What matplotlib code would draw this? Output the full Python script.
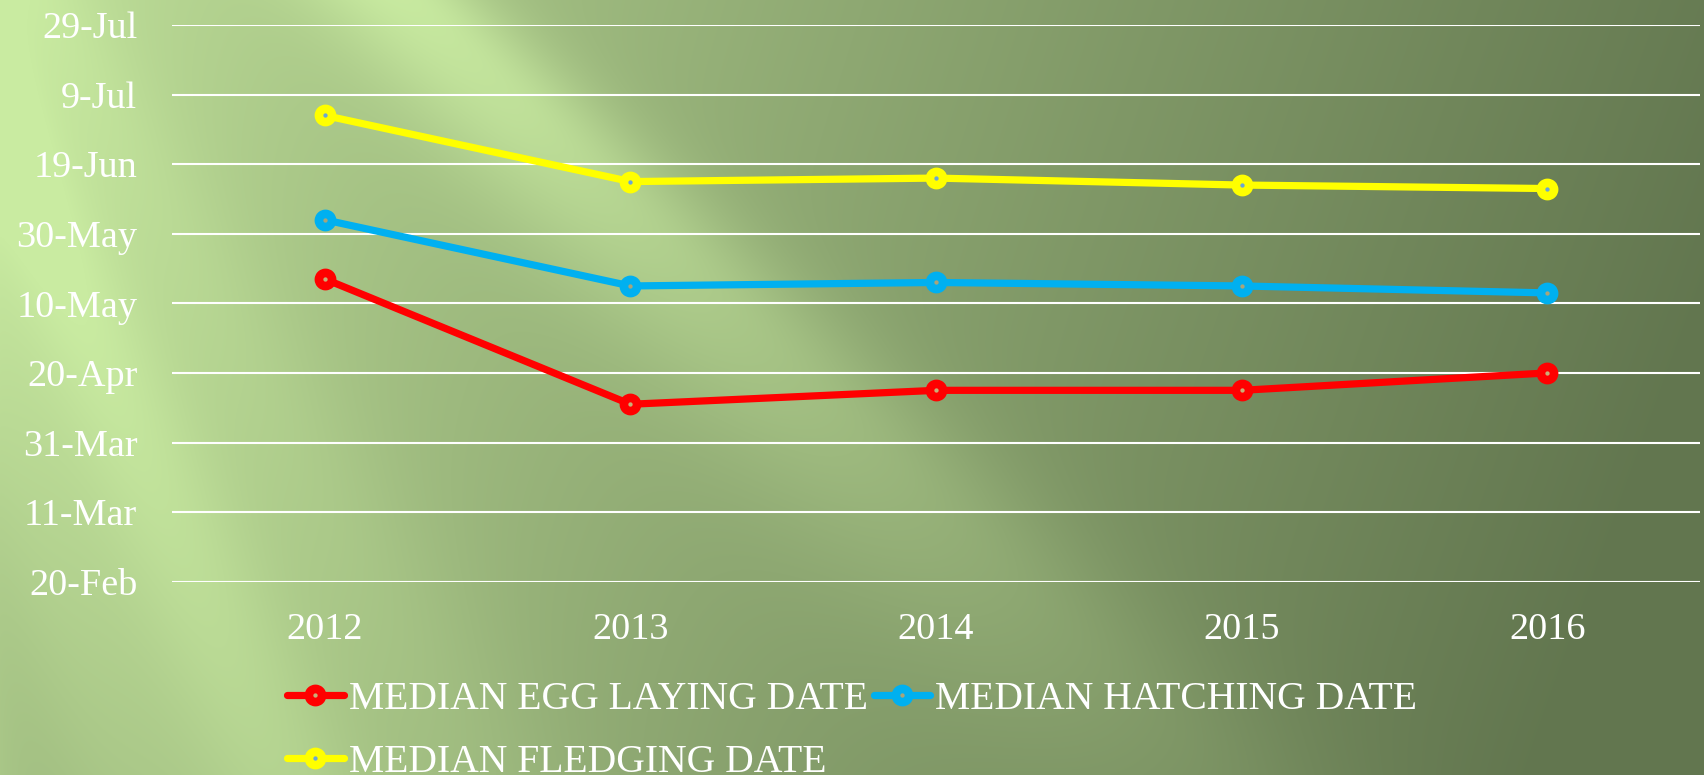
import numpy as np
import pandas as pd
import matplotlib
matplotlib.use('Agg')
import matplotlib.pyplot as plt
import matplotlib.dates as mdates
from matplotlib.lines import Line2D

# data (dates, plotted in a common year)
years = ['2012', '2013', '2014', '2015', '2016']
egg_laying = ['2012-05-17', '2012-04-11', '2012-04-15', '2012-04-15', '2012-04-20']
hatching = ['2012-06-03', '2012-05-15', '2012-05-16', '2012-05-15', '2012-05-13']
fledging = ['2012-07-03', '2012-06-14', '2012-06-15', '2012-06-13', '2012-06-12']
labels = ['MEDIAN EGG LAYING DATE', 'MEDIAN HATCHING DATE', 'MEDIAN FLEDGING DATE']

y_ticks = pd.date_range('2012-02-20', periods=9, freq='20D')

W, H = 1704, 775
fig = plt.figure(figsize=(W / 100, H / 100), dpi=100)

# background: light green on the left fading to olive, with light rays from top-left
yy, xx = np.mgrid[0:H, 0:W].astype(float)
sx, sy = -400.0, -800.0
r = np.hypot(xx - sx, yy - sy)
phi = np.degrees(np.arctan2(yy - sy, xx - sx))
L = 0.95 - 0.9 * (xx / W) ** 0.8 - 0.12 * (yy / H)
# main ray, sharper on its upper side
d = phi - 44.5
sig = np.where(d < 0, 2.5, 4.0)
L += 0.32 * np.clip((2700 - r) / 1400, 0, 1) * np.exp(-(d / sig) ** 2)
L += 0.18 * np.exp(-((phi - 66.5) / 2.8) ** 2)
L += 0.08 * np.exp(-((phi - 61) / 3) ** 2)
L -= 0.15 * np.exp(-((phi - 75) / 2.5) ** 2)
L = np.clip(L, 0, 1)[..., None]
light = np.array([0xc9, 0xeb, 0xa1]) / 255
dark = np.array([0x62, 0x76, 0x4f]) / 255
bg = dark + (light - dark) * L
bax = fig.add_axes([0, 0, 1, 1], zorder=-1)
bax.imshow(bg, aspect='auto', interpolation='bilinear')
bax.axis('off')

ax = fig.add_axes([172 / W, 1 - 581.7 / H, 1528 / W, (581.7 - 25) / H])
ax.set_facecolor('none')

x = np.arange(len(years))
series = [
    (egg_laying, '#ff0000', '#c8b078'),
    (hatching, '#00b0f0', '#a8a47a'),
    (fledging, '#ffff00', '#6aa6d6'),
]
handles = []
for vals, col, inner in series:
    dn = mdates.date2num(pd.to_datetime(vals))
    ax.plot(x, dn, color=col, lw=5.2, marker='o', ms=9.5, mew=6.2,
            mec=col, mfc=inner, zorder=3, solid_joinstyle='round')
    handles.append(Line2D([], [], color=col, lw=5.2, marker='o', ms=9.5, mew=6.2,
                          mec=col, mfc=inner, solid_capstyle='round'))

ax.set_xlim(-0.5, len(years) - 0.5)
ax.set_xticks(x)
ax.set_xticklabels(years)
ax.set_ylim(mdates.date2num(y_ticks[0]), mdates.date2num(y_ticks[-1]))
ax.set_yticks(mdates.date2num(y_ticks))
ax.yaxis.set_major_formatter(mdates.DateFormatter('%-d-%b'))
ax.grid(axis='y', color='white', lw=1.5)
ax.set_axisbelow(True)
for s in ax.spines.values():
    s.set_visible(False)
ax.tick_params(axis='both', length=0, labelcolor='white', labelsize=27.5)
ax.tick_params(axis='y', pad=25)
ax.tick_params(axis='x', pad=22)
for t in ax.get_xticklabels() + ax.get_yticklabels():
    t.set_fontfamily('Liberation Serif')

# second legend row runs off the bottom edge, as in the original
leg = fig.legend([handles[0], handles[2], handles[1]],
                 [labels[0], labels[2], labels[1]],
                 ncol=2, loc='upper left', bbox_to_anchor=(287 / W, 1 - 681 / H),
                 frameon=False, borderpad=0, borderaxespad=0,
                 handlelength=1.43, handletextpad=0.13, columnspacing=0.15,
                 labelspacing=0.66, prop={'family': 'Liberation Serif', 'size': 28.5})
for t in leg.get_texts():
    t.set_color('white')

fig.savefig('out.png', dpi=100)
